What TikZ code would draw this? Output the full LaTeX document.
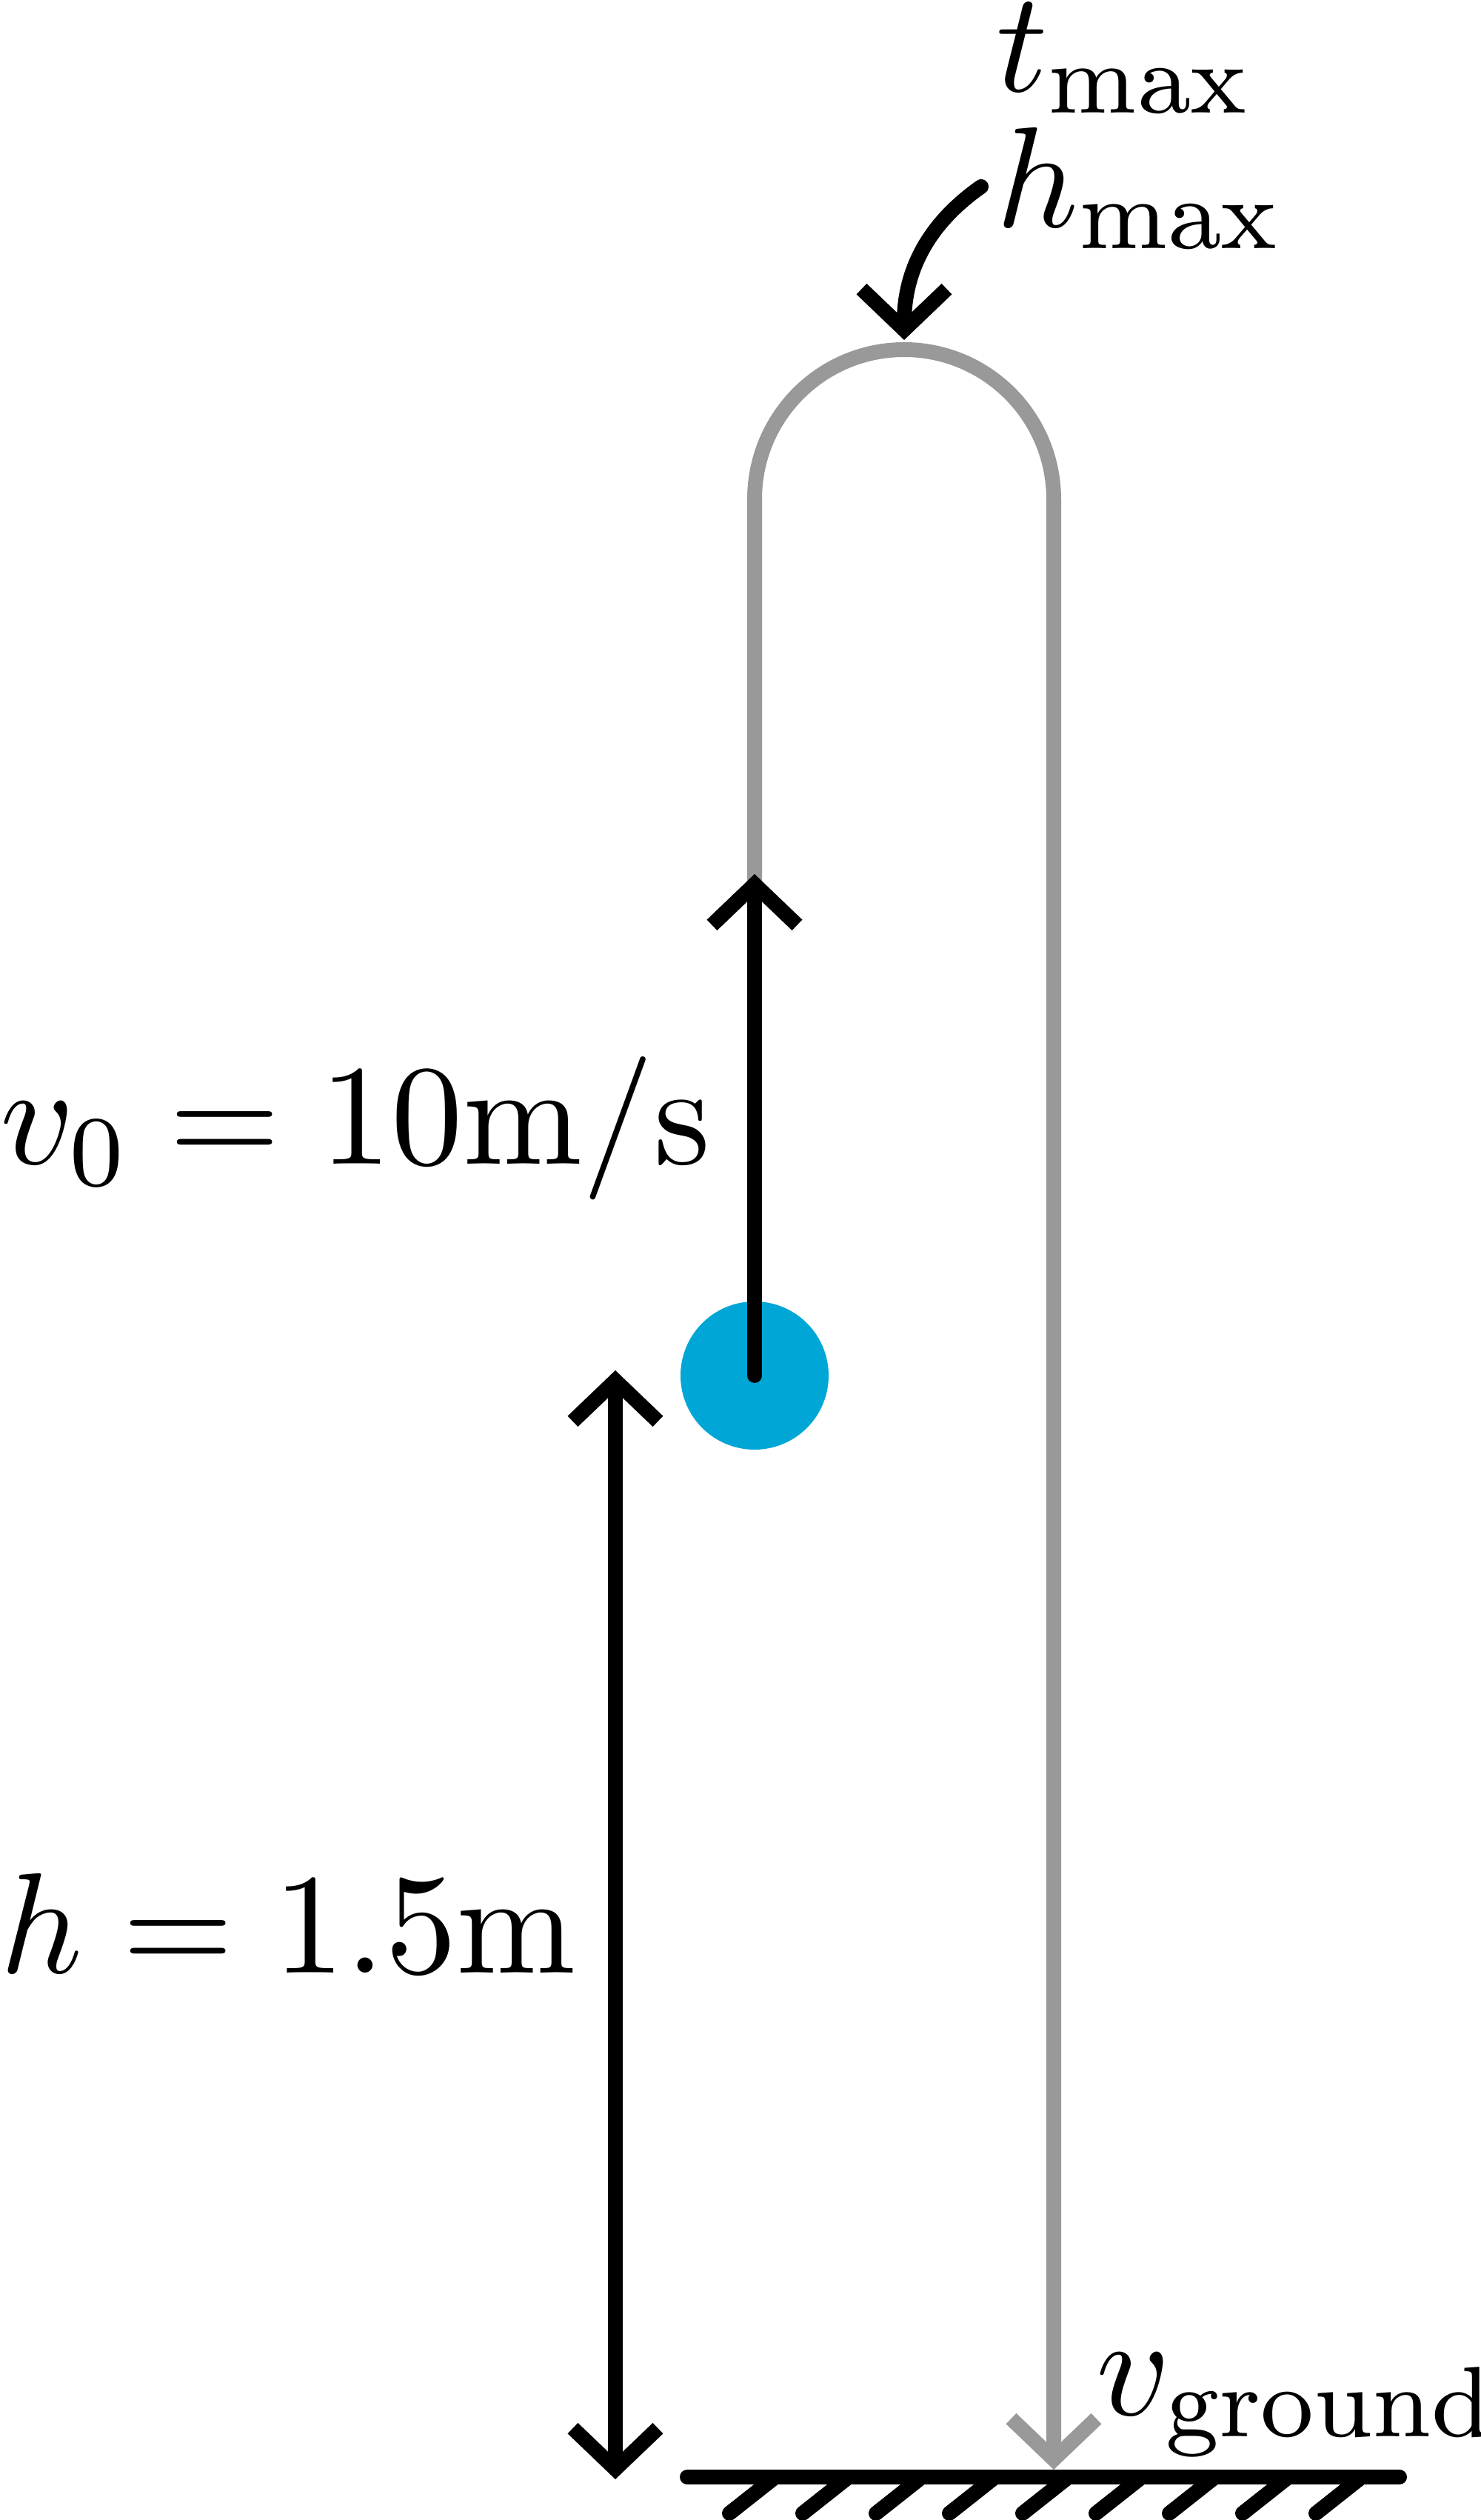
\RequirePackage{fix-cm}
\documentclass[tikz,border=0pt]{standalone}
\usepackage{graphicx}
\usetikzlibrary{arrows.meta}
\definecolor{ballblue}{HTML}{00A6D6}
\definecolor{pathgray}{HTML}{999999}
\DeclareMathSizes{11.5}{11.5}{8.05}{5.75}
\newcommand{\biglbl}[1]{\scalebox{4.783}{\fontsize{11.5}{14}\selectfont #1}}
\begin{document}
\begin{tikzpicture}[x=1cm,y=1cm,
>={Straight Barb[length=5.5mm,width=11.5mm]},
lbl/.style={%
inner sep=0,
anchor=base west,
},
vec/.style={%
line width=2mm,
line cap=round,
},
trace/.style={%
vec,
draw=pathgray,
},
ball/.style={%
circle,
fill=ballblue,
minimum size=2cm,
inner sep=0,
},
hatch/.style={%
line width=2mm,
line cap=round,
}
]
\useasboundingbox(0,0)rectangle(20,34.02);

%ground
\coordinate(gl)at(9.28,0.58);
\coordinate(gr)at(18.9,0.58);
\draw[hatch](gl)--(gr);
\foreach \i in {0,...,8}
  \draw[hatch]({10.47+0.99*\i},0.58)--++(-0.62,-0.49);

%trajectory
\coordinate(start)at(10.19,15.45);
\coordinate(land)at(14.23,0.68);
\draw[trace,->](start)--++(0,11.83)arc[start angle=180,end angle=0,radius=2.02]--(land);
\node[ball](ball)at(start){};

%initial velocity
\coordinate(v0tip)at(10.19,22.22);
\draw[vec,->](ball.center)--(v0tip);
\node[lbl](v0)at(0,18.30){\biglbl{$v_0=10\mathrm{m/s}$}};

%height
\coordinate(hbot)at(8.31,0.55);
\coordinate(htop)at(8.31,15.52);
\draw[vec,<->](hbot)--(htop);
\node[lbl](h)at(0,7.38){\biglbl{$h=1.5\mathrm{m}$}};

%top
\coordinate(apex)at(12.21,29.43);
\coordinate(cstart)at(13.25,31.50);
\draw[vec,->](cstart)to[out=215,in=90](apex);
\node[lbl](tmax)at(13.45,32.78){\biglbl{$t_\mathrm{max}$}};
\node[lbl](hmax)at(13.45,30.95){\biglbl{$h_\mathrm{max}$}};

%landing
\node[lbl](vg)at(14.80,1.42){\biglbl{$v_\mathrm{ground}$}};
\end{tikzpicture}
\end{document}
